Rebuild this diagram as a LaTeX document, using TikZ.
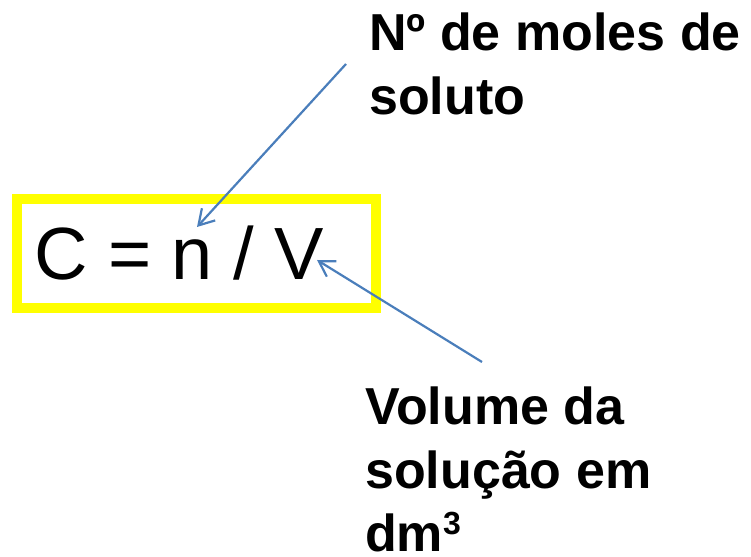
\documentclass[tikz,border=0pt]{standalone}
\usepackage{fontspec}
\setmainfont{Liberation Sans}
\usetikzlibrary{arrows.meta, positioning}
\definecolor{boxyellow}{RGB}{255,255,0}
\definecolor{arrowblue}{RGB}{74,126,187}
\newcommand{\supthree}{\raisebox{17pt}{\fontsize{32}{32}\selectfont\bfseries 3}}
\tikzset{
  fbox/.style   = {draw=boxyellow, line width=10pt, minimum width=359pt,
                   minimum height=108.5pt, inner sep=0pt},
  formula/.style = {font=\fontsize{74}{88}\selectfont, inner sep=0pt},
  label/.style  = {font=\fontsize{52}{63.5}\selectfont\bfseries, align=left,
                   inner sep=0pt},
  arrow/.style  = {-{Straight Barb[length=15pt, width=18pt]}, line width=2.2pt,
                   color=arrowblue},
}
\begin{document}
\begin{tikzpicture}[x=1pt, y=1pt]
  \useasboundingbox (0,0) rectangle (751,556);
  \node[fbox] (box) at (196.5,302.25) {};
  \node[formula, anchor=base west] (eq) at (34,276) {C = n / V};
  \node[label, anchor=north west] (moles) at (369,543) {Nº de moles de\\soluto};
  \node[label, anchor=north west] (vol) at (365,169) {Volume da\\solução em\\dm\supthree};
  % arrow ends
  \coordinate (molesfoot) at (346,492);
  \coordinate (ntip) at (197,329);
  \coordinate (volfoot) at (482,194);
  \coordinate (vtip) at (317,296);
  \draw[arrow] (molesfoot) -- (ntip);
  \draw[arrow] (volfoot) -- (vtip);
\end{tikzpicture}
\end{document}
